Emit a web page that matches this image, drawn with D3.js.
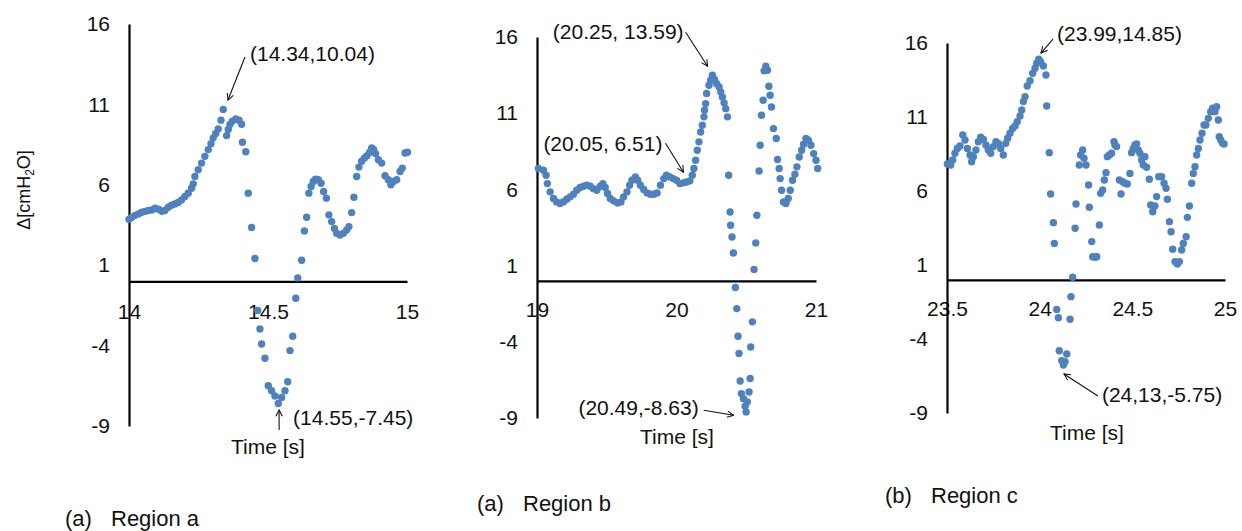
<!DOCTYPE html>
<html>
<head>
<meta charset="utf-8">
<script src="https://cdn.jsdelivr.net/npm/d3@7"></script>
<style>
  body { margin: 0; background: #fff; }
  svg text { font-family: "Liberation Sans", Arial, sans-serif; fill: #111; }
</style>
</head>
<body>
<svg id="chart" width="1242" height="531"></svg>
<script>
// values: time [s] and pressure difference [cmH2O]
const timeA = [14.000,14.010,14.022,14.034,14.046,14.058,14.070,14.082,14.094,14.106,14.118,14.129,14.141,14.153,14.165,14.177,14.189,14.201,14.213,14.225,14.231,14.237,14.249,14.261,14.273,14.285,14.295,14.303,14.312,14.321,14.331,14.339,14.351,14.357,14.363,14.372,14.384,14.396,14.405,14.408,14.420,14.429,14.441,14.453,14.463,14.471,14.477,14.489,14.501,14.513,14.525,14.537,14.549,14.561,14.571,14.579,14.589,14.600,14.607,14.621,14.631,14.639,14.647,14.655,14.663,14.671,14.681,14.691,14.700,14.710,14.719,14.729,14.739,14.747,14.759,14.771,14.783,14.791,14.801,14.809,14.819,14.827,14.837,14.847,14.856,14.866,14.873,14.880,14.887,14.897,14.909,14.921,14.933,14.942,14.951,14.963,14.975,14.983,14.993,15.002];
const deltaA = [3.85,3.98,4.10,4.19,4.29,4.35,4.40,4.44,4.54,4.48,4.35,4.40,4.60,4.73,4.81,4.90,5.06,5.27,5.48,5.79,6.06,6.52,6.94,7.35,7.77,8.19,8.56,8.92,9.19,9.48,10.02,10.69,9.06,9.44,9.75,9.96,10.10,10.02,9.77,8.65,8.06,5.48,3.35,1.42,-1.81,-2.96,-3.90,-4.79,-6.50,-6.81,-7.13,-7.60,-7.23,-6.81,-6.25,-4.31,-3.42,-1.06,0.21,1.31,3.13,3.98,5.48,5.90,6.21,6.35,6.31,6.10,5.58,5.17,4.13,3.71,3.29,2.98,2.88,2.98,3.19,3.40,4.27,5.23,6.52,7.10,7.46,7.67,7.81,8.02,8.29,8.19,7.94,7.56,7.35,6.56,6.31,6.00,6.21,6.31,6.83,7.04,7.98,8.02];

const timeB = [19.010,19.046,19.065,19.074,19.094,19.118,19.141,19.165,19.189,19.213,19.237,19.261,19.285,19.309,19.333,19.357,19.381,19.405,19.429,19.453,19.472,19.489,19.506,19.525,19.549,19.578,19.602,19.621,19.645,19.664,19.681,19.705,19.722,19.741,19.765,19.789,19.813,19.837,19.861,19.885,19.909,19.928,19.952,19.976,20.000,20.024,20.048,20.072,20.096,20.113,20.125,20.137,20.149,20.161,20.173,20.185,20.197,20.201,20.209,20.216,20.233,20.245,20.257,20.273,20.288,20.305,20.317,20.329,20.341,20.353,20.365,20.374,20.384,20.388,20.398,20.408,20.422,20.432,20.441,20.448,20.456,20.465,20.480,20.492,20.499,20.508,20.520,20.528,20.532,20.544,20.556,20.568,20.576,20.592,20.600,20.609,20.621,20.628,20.640,20.652,20.662,20.671,20.681,20.695,20.715,20.724,20.736,20.743,20.753,20.767,20.784,20.801,20.815,20.832,20.849,20.863,20.880,20.897,20.911,20.928,20.945,20.964,20.983,21.000,21.012];
const deltaB = [7.37,7.26,6.93,6.38,5.84,5.40,5.18,5.07,5.18,5.35,5.51,5.68,5.94,6.12,6.21,6.27,6.21,6.05,5.94,6.21,6.38,6.12,5.73,5.40,5.25,5.11,5.18,5.51,5.84,6.27,6.60,6.82,6.60,6.27,5.99,5.77,5.68,5.68,5.77,6.27,6.71,6.93,6.82,6.71,6.60,6.38,6.43,6.49,6.56,6.93,7.37,7.91,8.57,9.12,9.77,10.21,10.76,11.19,11.63,12.29,12.83,13.16,13.49,13.21,12.94,12.73,12.40,12.07,11.68,11.30,10.76,6.93,4.52,3.65,2.88,1.83,-0.44,-1.82,-3.64,-4.77,-6.57,-7.40,-7.73,-8.23,-8.60,-7.94,-7.29,-6.41,-4.34,-2.69,0.74,2.49,4.30,7.21,8.90,10.87,11.85,13.78,14.08,13.82,12.77,12.18,11.41,9.99,9.34,7.96,7.37,6.71,5.94,5.18,5.07,5.40,5.94,6.60,7.00,7.48,8.13,8.57,8.96,9.34,9.23,8.90,8.35,7.91,7.37];

const timeC = [23.502,23.520,23.531,23.543,23.556,23.570,23.585,23.597,23.610,23.624,23.633,23.642,23.656,23.669,23.682,23.696,23.710,23.723,23.736,23.750,23.764,23.777,23.790,23.804,23.817,23.827,23.840,23.854,23.867,23.879,23.894,23.903,23.912,23.921,23.933,23.948,23.962,23.975,23.984,23.995,24.005,24.020,24.034,24.038,24.052,24.059,24.074,24.079,24.092,24.101,24.106,24.119,24.128,24.137,24.146,24.164,24.169,24.178,24.191,24.196,24.214,24.221,24.232,24.239,24.250,24.264,24.268,24.281,24.286,24.299,24.308,24.322,24.329,24.340,24.349,24.358,24.365,24.376,24.388,24.401,24.406,24.415,24.430,24.439,24.448,24.460,24.473,24.487,24.496,24.505,24.514,24.523,24.532,24.541,24.550,24.559,24.568,24.577,24.592,24.599,24.610,24.622,24.631,24.642,24.658,24.671,24.682,24.689,24.700,24.709,24.718,24.730,24.743,24.754,24.766,24.775,24.790,24.797,24.808,24.820,24.829,24.838,24.847,24.856,24.865,24.876,24.887,24.897,24.910,24.923,24.933,24.946,24.955,24.964,24.969,24.977,24.987,24.995];
const deltaC = [7.82,7.76,8.09,8.55,8.88,9.04,9.78,9.45,8.88,8.43,7.98,8.32,8.77,9.33,9.63,9.49,9.11,8.77,8.55,9.00,9.33,9.22,8.88,8.43,9.22,9.56,9.90,10.23,10.39,10.68,11.07,11.47,12.04,12.37,13.09,13.45,13.95,14.29,14.63,14.90,14.74,14.45,13.84,11.74,8.59,5.80,3.86,2.46,-2.00,-2.56,-4.79,-5.46,-5.76,-5.53,-5.01,-2.67,-1.14,0.17,3.48,5.12,7.76,8.43,8.77,8.21,7.76,6.41,4.90,2.58,1.56,1.52,1.56,3.70,5.84,6.07,6.74,7.24,8.32,8.43,8.55,9.33,9.11,9.00,6.74,5.80,6.63,6.52,6.47,7.19,8.59,8.88,9.11,9.18,8.77,8.55,8.09,7.76,8.32,7.60,6.79,5.05,4.60,4.99,5.62,6.97,6.97,6.52,6.18,5.44,3.93,3.25,2.06,1.23,1.07,1.23,2.01,2.46,2.91,4.22,4.99,6.52,7.19,7.64,8.43,8.88,9.45,9.90,10.46,10.46,10.91,11.36,11.59,11.36,11.70,10.80,9.67,9.45,9.22,9.18];

const yDomain = [-9, 16];
const yTicks = [16, 11, 6, 1, -4, -9];
const xTicksA = [14, 14.5, 15];
const xTicksB = [19, 20, 21];
const xTicksC = [23.5, 24, 24.5, 25];

const axisTitleX = "Time [s]";
const captionTags = ["(a)", "(a)", "(b)"];
const captionNames = ["Region a", "Region b", "Region c"];

// annotated points: label and where the arrow points (data units)
const notesA = [
  { label: "(14.34,10.04)", t: 14.356, v: 11.27 },
  { label: "(14.55,-7.45)", t: 14.540, v: -8.00 }
];
const notesB = [
  { label: "(20.25, 13.59)", t: 20.223, v: 14.08 },
  { label: "(20.05, 6.51)", t: 20.050, v: 7.13 },
  { label: "(20.49,-8.63)", t: 20.410, v: -8.82 }
];
const notesC = [
  { label: "(23.99,14.85)", t: 24.007, v: 15.32 },
  { label: "(24,13,-5.75)", t: 24.131, v: -6.36 }
];

// layout of each panel (pixels)
const panels = [
  { times: timeA, deltas: deltaA, xTicks: xTicksA, xDomain: [14, 15], notes: notesA,
    left: 129, right: 407, top: 24, bottom: 426, xPad: 23,
    titleX: 268, titleY: 447, capX: 65, capY: 518,
    noteLayout: [
      { tail: [17, -43], text: [22, -46], anchor: "start" },
      { tail: [0, 20], text: [14, 8], anchor: "start" }
    ] },
  { times: timeB, deltas: deltaB, xTicks: xTicksB, xDomain: [19, 21], notes: notesB,
    left: 537, right: 816, top: 37, bottom: 418, xPad: 21,
    titleX: 677, titleY: 437, capX: 477, capY: 503,
    noteLayout: [
      { tail: [-22, -34], text: [-24, -35], anchor: "end" },
      { tail: [-18, -29], text: [-21, -29], anchor: "end" },
      { tail: [-30, -5], text: [-35, -8], anchor: "end" }
    ] },
  { times: timeC, deltas: deltaC, xTicks: xTicksC, xDomain: [23.5, 25], notes: notesC,
    left: 947, right: 1225, top: 43, bottom: 413, xPad: 21,
    titleX: 1087, titleY: 433, capX: 885, capY: 495,
    noteLayout: [
      { tail: [12, -14], text: [16, -19], anchor: "start" },
      { tail: [34, 22], text: [38, 21], anchor: "start" }
    ] }
];

const svg = d3.select("#chart");

svg.append("defs").append("marker")
  .attr("id", "arrow")
  .attr("viewBox", "0 0 10 10")
  .attr("refX", 9).attr("refY", 5)
  .attr("markerWidth", 8).attr("markerHeight", 8)
  .attr("markerUnits", "userSpaceOnUse")
  .attr("orient", "auto")
  .append("path")
  .attr("d", "M1,1 L9,5 L1,9")
  .attr("fill", "none")
  .attr("stroke", "#111")
  .attr("stroke-width", 1.3);

const tickText = d => String(d);

panels.forEach((p, i) => {
  const x = d3.scaleLinear().domain(p.xDomain).range([p.left, p.right]);
  const y = d3.scaleLinear().domain(yDomain).range([p.bottom, p.top]);
  const g = svg.append("g");

  const xAxis = g.append("g")
    .attr("transform", `translate(0,${y(0)})`)
    .call(d3.axisBottom(x).tickValues(p.xTicks).tickSize(0).tickSizeOuter(0)
      .tickPadding(p.xPad).tickFormat(tickText));
  const yAxis = g.append("g")
    .attr("transform", `translate(${p.left},0)`)
    .call(d3.axisLeft(y).tickValues(yTicks).tickSize(0).tickSizeOuter(0)
      .tickPadding(19).tickFormat(tickText));

  [xAxis, yAxis].forEach(a => {
    a.attr("font-size", null).attr("font-family", null);
    a.select(".domain").attr("stroke", "#000").attr("stroke-width", 2.2);
    a.selectAll(".tick text").attr("font-size", 21).attr("fill", "#111");
  });

  g.selectAll("circle")
    .data(d3.zip(p.times, p.deltas))
    .join("circle")
    .attr("cx", d => x(d[0]))
    .attr("cy", d => y(d[1]))
    .attr("r", 3.7)
    .attr("fill", "#4f81bd");

  p.notes.forEach((n, k) => {
    const lay = p.noteLayout[k];
    const tx = x(n.t), ty = y(n.v);
    g.append("line")
      .attr("x1", tx + lay.tail[0]).attr("y1", ty + lay.tail[1])
      .attr("x2", tx).attr("y2", ty)
      .attr("stroke", "#111").attr("stroke-width", 1.1)
      .attr("marker-end", "url(#arrow)");
    g.append("text")
      .attr("x", tx + lay.text[0]).attr("y", ty + lay.text[1])
      .attr("dy", "0.35em")
      .attr("text-anchor", lay.anchor)
      .attr("font-size", 21)
      .text(n.label);
  });

  g.append("text")
    .attr("x", p.titleX).attr("y", p.titleY)
    .attr("dy", "0.35em")
    .attr("text-anchor", "middle")
    .attr("font-size", 21)
    .text(axisTitleX);

  const cap = g.append("text")
    .attr("y", p.capY).attr("dy", "0.35em")
    .attr("font-size", 22);
  cap.append("tspan").attr("x", p.capX).text(captionTags[i]);
  cap.append("tspan").attr("x", p.capX + 46).text(captionNames[i]);
});

// y axis title, only on the first panel
const yt = svg.append("text")
  .attr("transform", "translate(24,190) rotate(-90)")
  .attr("text-anchor", "middle")
  .attr("dy", "0.35em")
  .attr("font-size", 18);
yt.append("tspan").text("Δ[cmH");
yt.append("tspan").attr("font-size", 12).attr("dy", "0.3em").text("2");
yt.append("tspan").attr("dy", "-0.2em").text("O]");
</script>
</body>
</html>
